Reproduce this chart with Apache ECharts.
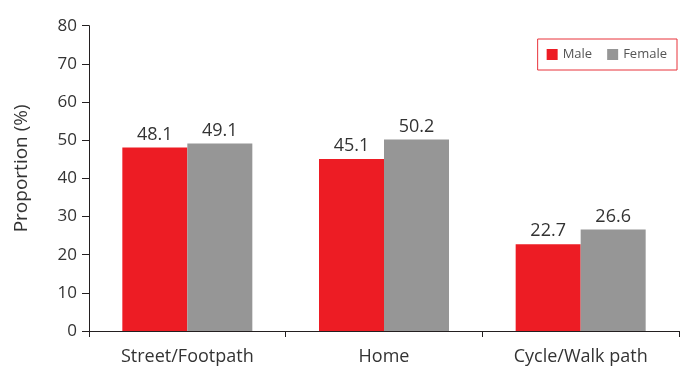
<!DOCTYPE html>
<html>
<head>
<meta charset="utf-8">
<script src="https://cdn.jsdelivr.net/npm/echarts@6/dist/echarts.min.js"></script>
<style>
  html, body { margin: 0; padding: 0; background: #fff; }
  #chart { width: 680px; height: 367px; }
</style>
</head>
<body>
<div id="chart"></div>
<script>
// Places where the activity took place, share by sex
var categories = ['Street/Footpath', 'Home', 'Cycle/Walk path'];
var maleValues = [48.1, 45.1, 22.7];
var femaleValues = [49.1, 50.2, 26.6];
var seriesNames = ['Male', 'Female'];
var yTicks = { min: 0, max: 80, interval: 10 };
var yAxisTitle = 'Proportion (%)';

var FONT = '"Open Sans", "Segoe UI", sans-serif';
var AXIS_COLOR = '#231f20';
var TEXT_COLOR = '#333333';

var chart = echarts.init(document.getElementById('chart'), null, { renderer: 'canvas' });

function barSeries(name, values, color) {
  return {
    name: name,
    type: 'bar',
    data: values,
    barWidth: 65,
    barGap: '0%',
    itemStyle: { color: color },
    label: {
      show: true,
      position: 'top',
      distance: 4,
      color: TEXT_COLOR,
      fontFamily: FONT,
      fontSize: 18,
      formatter: function (p) { return p.value.toFixed(1); }
    }
  };
}

chart.setOption({
  animation: false,
  textStyle: { fontFamily: FONT },
  grid: { left: 89, right: 1, top: 25.7, bottom: 36, containLabel: false },
  legend: {
    data: seriesNames,
    orient: 'horizontal',
    right: 3,
    top: 39,
    padding: [9, 10, 9, 9],
    borderColor: '#e8333b',
    borderWidth: 1,
    itemWidth: 11,
    itemHeight: 11,
    itemGap: 15,
    icon: 'rect',
    textStyle: { color: '#555', fontSize: 13, fontFamily: FONT }
  },
  xAxis: {
    type: 'category',
    data: categories,
    axisLine: { lineStyle: { color: AXIS_COLOR, width: 1 } },
    axisTick: { show: true, length: 6, lineStyle: { color: AXIS_COLOR } },
    axisLabel: { color: TEXT_COLOR, fontSize: 18, margin: 17, fontFamily: FONT }
  },
  yAxis: {
    type: 'value',
    min: yTicks.min,
    max: yTicks.max,
    interval: yTicks.interval,
    name: yAxisTitle,
    nameLocation: 'middle',
    nameGap: 58,
    nameTextStyle: { color: TEXT_COLOR, fontSize: 19, fontFamily: FONT, padding: [0, 0, 0, 20] },
    axisLine: { show: true, lineStyle: { color: AXIS_COLOR, width: 1 } },
    axisTick: { show: true, length: 7, lineStyle: { color: AXIS_COLOR } },
    axisLabel: { color: TEXT_COLOR, fontSize: 17, margin: 12, fontFamily: FONT },
    splitLine: { show: false }
  },
  series: [
    barSeries(seriesNames[0], maleValues, '#ed1c24'),
    barSeries(seriesNames[1], femaleValues, '#969696')
  ]
});
</script>
</body>
</html>
